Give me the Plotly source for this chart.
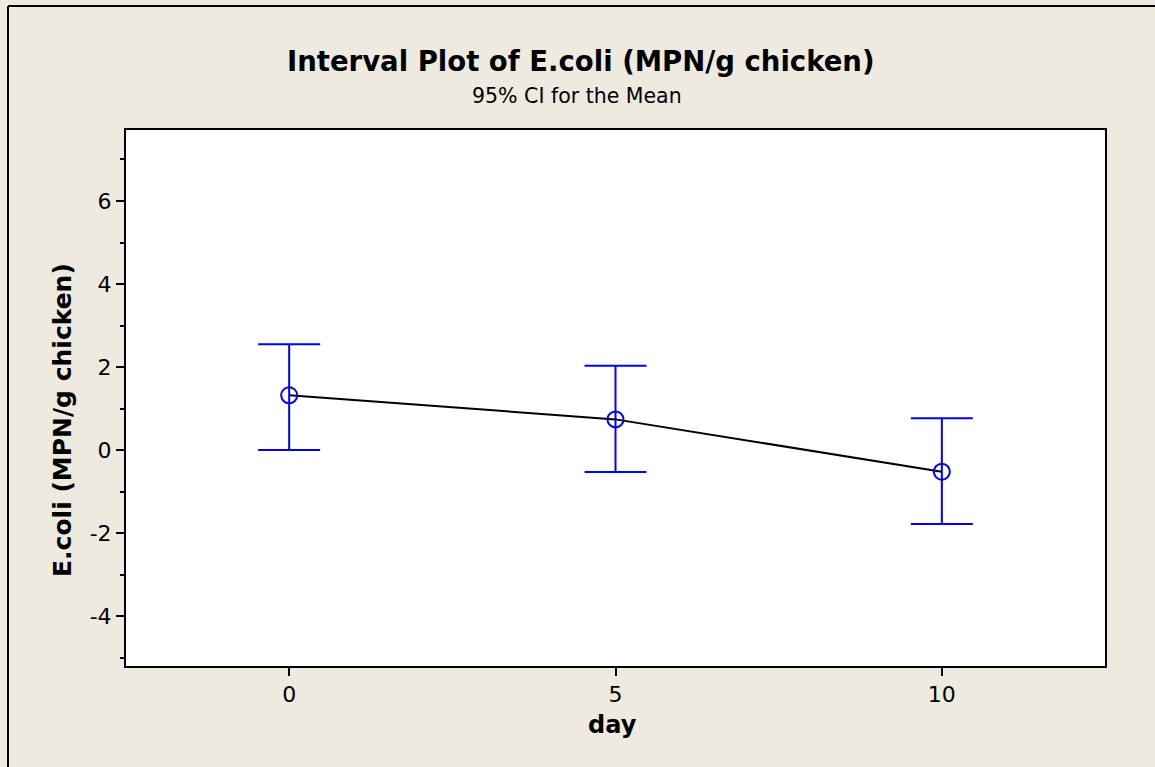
import plotly.graph_objects as go

days = [0, 5, 10]
means = [1.32, 0.74, -0.52]
upper = [2.55, 2.03, 0.77]
lower = [0.0, -0.53, -1.78]

y_tickvals = [-4, -2, 0, 2, 4, 6]
y_ticktext = ["-4", "-2", "0", "2", "4", "6"]
x_tickvals = [0, 5, 10]
x_ticktext = ["0", "5", "10"]

err_plus = [u - m for u, m in zip(upper, means)]
err_minus = [m - l for m, l in zip(means, lower)]

BG = "#EEEAE0"
FONT = "DejaVu Sans"

fig = go.Figure()
fig.add_trace(go.Scatter(
    x=days, y=means, mode="lines",
    line=dict(color="black", width=2),
    hoverinfo="skip", showlegend=False,
))
fig.add_trace(go.Scatter(
    x=days, y=means, mode="markers",
    marker=dict(symbol="circle-open", size=16, color="#0000FF", line=dict(width=2, color="#0000FF")),
    error_y=dict(type="data", symmetric=False, array=err_plus, arrayminus=err_minus,
                 color="#0000FF", thickness=2, width=31),
    showlegend=False,
))

L, R, T, B = 126, 50, 130, 101
W, H = 1155, 767
pw, ph = W - L - R, H - T - B

def px(xp):
    return (xp - L) / pw

def py(yp):
    return (H - B - yp) / ph

fig.update_layout(
    width=W, height=H,
    margin=dict(l=L, r=R, t=T, b=B),
    paper_bgcolor=BG, plot_bgcolor="white",
    font=dict(family=FONT, color="black", size=22),
    xaxis=dict(range=[-2.5, 12.5], tickvals=x_tickvals, ticktext=x_ticktext, ticks="outside", ticklen=8, tickwidth=2,
               tickcolor="black", showline=True, linecolor="black", linewidth=2, mirror=True,
               showgrid=False, zeroline=False, tickfont=dict(size=22)),
    yaxis=dict(range=[-5.2, 7.71], tickvals=y_tickvals, ticktext=y_ticktext, ticks="outside", ticklen=8, tickwidth=2,
               tickcolor="black", showline=True, linecolor="black", linewidth=2, mirror=True,
               showgrid=False, zeroline=False, tickfont=dict(size=22),
               minor=dict(dtick=1, tick0=0, ticks="outside", ticklen=4, tickwidth=1.5, tickcolor="black", showgrid=False)),
    annotations=[
        dict(text="<b>Interval Plot of E.coli (MPN/g chicken)</b>", xref="paper", yref="paper",
             x=px(581), y=py(61), xanchor="center", yanchor="middle", showarrow=False,
             font=dict(size=27.5, family=FONT)),
        dict(text="95% CI for the Mean", xref="paper", yref="paper",
             x=px(577), y=py(96), xanchor="center", yanchor="middle", showarrow=False,
             font=dict(size=20.5, family=FONT)),
        dict(text="<b>day</b>", xref="paper", yref="paper",
             x=px(612), y=py(725), xanchor="center", yanchor="middle", showarrow=False,
             font=dict(size=24, family=FONT)),
        dict(text="<b>E.coli (MPN/g chicken)</b>", xref="paper", yref="paper",
             x=px(62), y=py(420), xanchor="center", yanchor="middle", showarrow=False, textangle=-90,
             font=dict(size=25, family=FONT)),
    ],
    shapes=[
        dict(type="line", xref="paper", yref="paper", x0=px(8), x1=px(8), y0=py(6), y1=py(780),
             line=dict(color="black", width=2)),
        dict(type="line", xref="paper", yref="paper", x0=px(8), x1=px(1170), y0=py(6), y1=py(6),
             line=dict(color="black", width=2)),
    ],
)

fig.write_html("out.html")
